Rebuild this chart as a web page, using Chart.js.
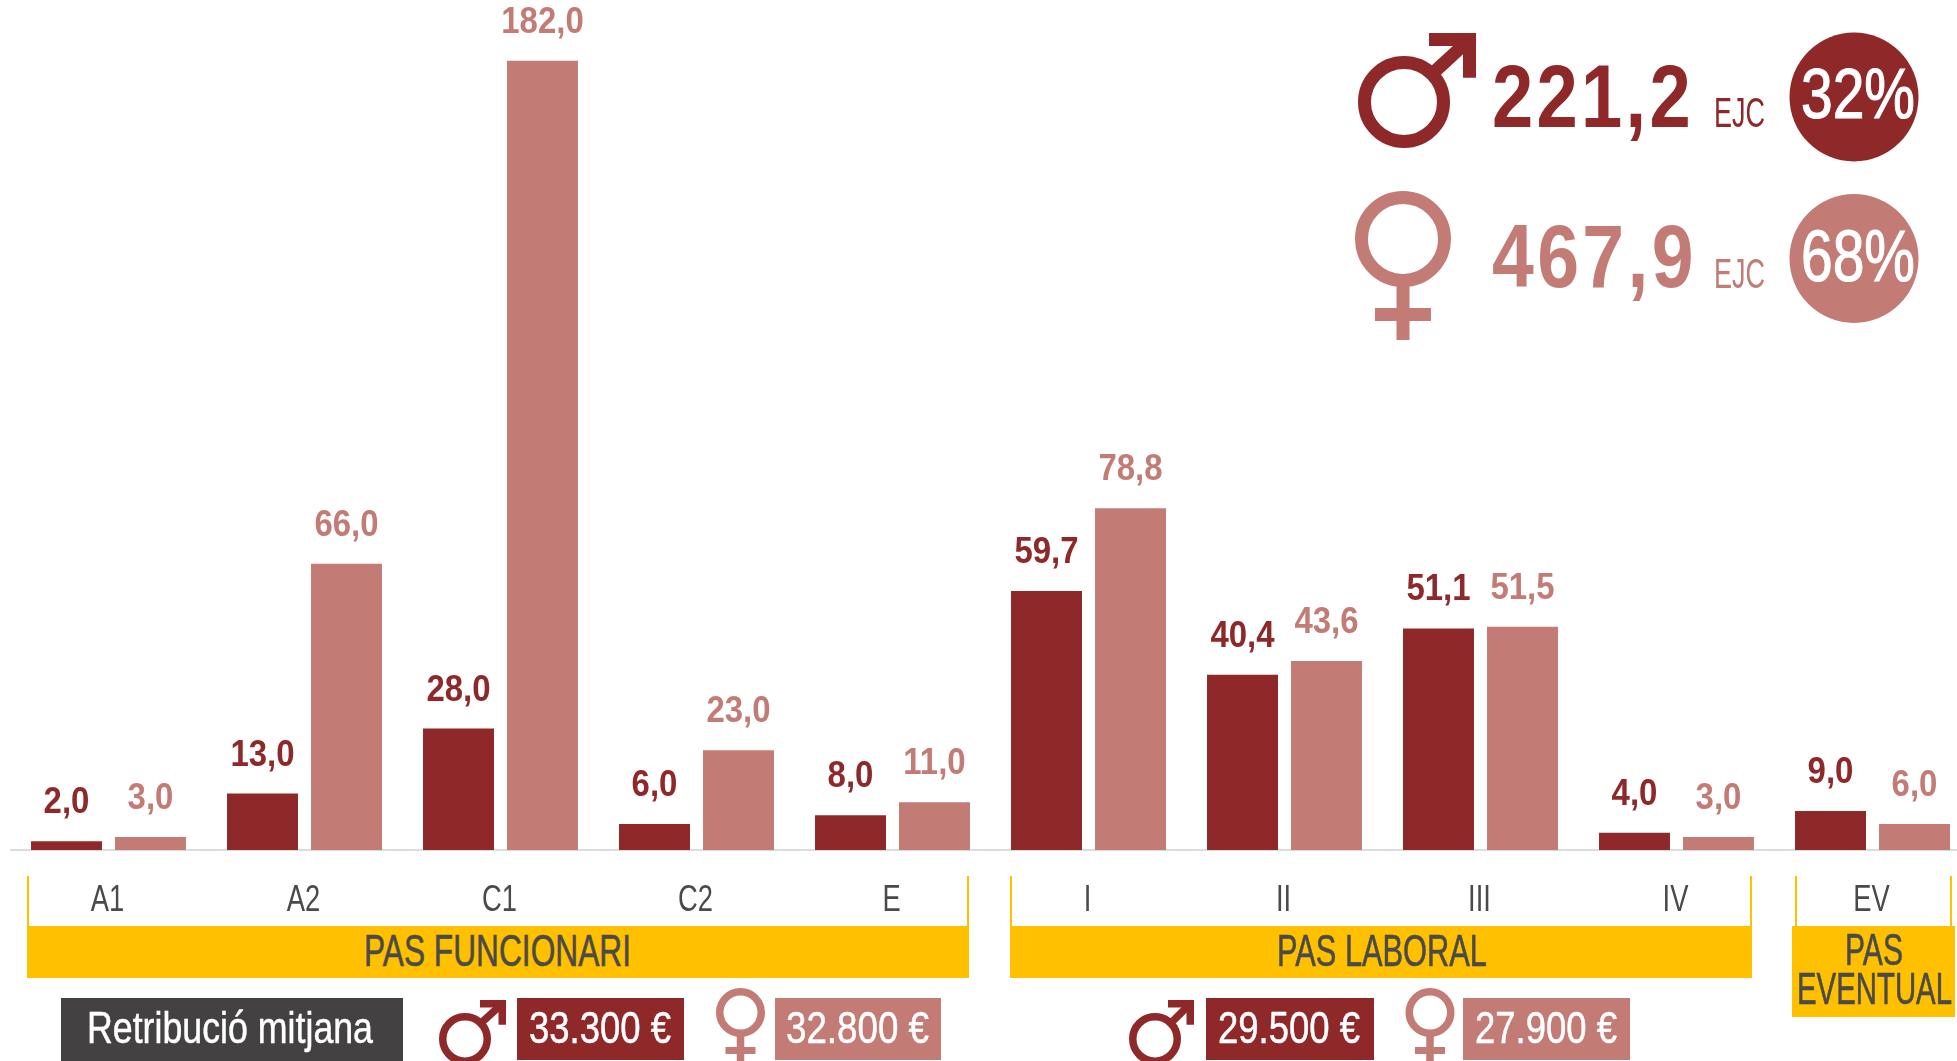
<!DOCTYPE html>
<html><head><meta charset="utf-8">
<style>
html,body{margin:0;padding:0;background:#fff;overflow:hidden;width:1957px;height:1061px}
#wrap{position:relative;width:1957px;height:1061px;overflow:hidden}
canvas{position:absolute;left:0;top:0}
.t{position:absolute;line-height:0;white-space:nowrap;font-family:"Liberation Sans",sans-serif;transform-origin:0 50%}
.b{position:absolute}
svg{position:absolute;left:0;top:0}
</style>
<script src="https://cdn.jsdelivr.net/npm/chart.js@4"></script>
</head><body><div id="wrap">
<canvas id="c" width="1980" height="1061" style="width:1980px;height:1061px"></canvas>
<svg width="1957" height="1061" id="s"></svg>
</div>
<script>
const categories=["A1","A2","C1","C2","E","I","II","III","IV","EV"];
const homes=[2.0,13.0,28.0,6.0,8.0,59.7,40.4,51.1,4.0,9.0];
const dones=[3.0,66.0,182.0,23.0,11.0,78.8,43.6,51.5,3.0,6.0];
const DARK="#8f2829",LIGHT="#c27c75",YEL="#ffc000",GREY="#434142",TXT="#4a4a4a";
const FONT='"Liberation Sans",sans-serif';
const fmt=v=>v.toFixed(1).replace('.',',');

const labelPlugin={id:'vals',afterDatasetsDraw(ch){
  const c=ch.ctx;c.save();c.textAlign='center';c.textBaseline='alphabetic';
  c.font='bold 36px '+FONT;
  ch.data.datasets.forEach((d,i)=>{c.fillStyle=d.backgroundColor;
    ch.getDatasetMeta(i).data.forEach((el,j)=>{c.save();c.translate(el.x,el.y-28);c.scale(.915,1);
      c.fillText(fmt(d.data[j]),0,0);c.restore();});});
  const sx=ch.scales.x;c.font='36px '+FONT;c.fillStyle=TXT;c.textBaseline='middle';
  sx.ticks.forEach((t,i)=>{c.save();c.translate(sx.getPixelForTick(i)-1,901);c.scale(.76,1);
    c.fillText(categories[t.value],0,0);c.restore();});
  c.restore();}};

new Chart(document.getElementById('c'),{type:'bar',plugins:[labelPlugin],
 data:{labels:categories,datasets:[
  {label:'Homes',data:homes,backgroundColor:DARK,categoryPercentage:.857,barPercentage:.845},
  {label:'Dones',data:dones,backgroundColor:LIGHT,categoryPercentage:.857,barPercentage:.845}]},
 options:{responsive:false,animation:false,layout:{padding:{left:10.5,right:9.5,top:0,bottom:0}},
  plugins:{legend:{display:false},tooltip:{enabled:false}},
  scales:{
   x:{afterFit(s){s.height=211},grid:{display:false,drawTicks:false},border:{color:'#dcdcdc',width:2},
      ticks:{display:false,autoSkip:false}},
   y:{display:false,min:0,max:196}}}});

const wrap=document.getElementById('wrap');
function box(x,y,w,h,col){const d=document.createElement('div');d.className='b';
  d.style.cssText+=`left:${x}px;top:${y}px;width:${w}px;height:${h}px;background:${col}`;wrap.appendChild(d);}
function text(s,x0,x1,yc,h,col,opt={}){const d=document.createElement('div');d.className='t';d.textContent=s;
  d.style.fontSize=(h/0.69)+'px';d.style.left=x0+'px';d.style.top=yc+'px';d.style.color=col;
  if(opt.bold)d.style.fontWeight='bold';
  if(opt.ls)d.style.letterSpacing=opt.ls+'px';
  if(opt.st)d.style.webkitTextStroke=opt.st+'px '+col;
  wrap.appendChild(d);
  const w=d.getBoundingClientRect().width;d.style.transform=`scaleX(${(x1-x0)/w})`;}

// brackets
[[27,969],[1010,1752],[1795,1952]].forEach(([a,b])=>{box(a,876,2,50,YEL);box(b-2,876,2,50,YEL);});
box(27,926,942,52,YEL);box(1010,926,742,52,YEL);box(1792,926,163,91,YEL);
text("PAS FUNCIONARI",364,631,951,30,TXT,{st:.6});
text("PAS LABORAL",1277,1487,951,30,TXT,{st:.6});
text("PAS",1845,1903,950,30,TXT,{st:.6});
text("EVENTUAL",1797,1952,989,30,TXT,{st:.6});
// salary row
box(61,998,342,63,GREY);text("Retribució mitjana",87,373,1028,31,"#fff",{st:.5});
box(517,998,167,62,DARK);text("33.300 €",529,671,1028,31,"#fff",{st:.5});
box(775,998,166,62,LIGHT);text("32.800 €",786,929,1028,31,"#fff",{st:.5});
box(1206,998,168,62,DARK);text("29.500 €",1218,1360,1028,31,"#fff",{st:.5});
box(1463,998,167,62,LIGHT);text("27.900 €",1475,1617,1028,31,"#fff",{st:.5});
// top totals
text("221,2",1492,1694,96,62,DARK,{bold:true,ls:4});text("EJC",1714,1765,113,29,DARK);
text("467,9",1492,1697,256,62,LIGHT,{bold:true,ls:4});text("EJC",1714,1765,274,29,LIGHT);

const s=document.getElementById('s');let svg='';
function male(cx,cy,r,sw,hx,hy,hl,col){const k=sw;
  svg+=`<circle cx="${cx}" cy="${cy}" r="${r-sw/2}" fill="none" stroke="${col}" stroke-width="${sw}"/>`;
  const a=cx+(r-sw/2)*.7,b=cy-(r-sw/2)*.7;
  svg+=`<line x1="${a}" y1="${b}" x2="${hx-sw/2}" y2="${hy+sw/2}" stroke="${col}" stroke-width="${sw}"/>`;
  svg+=`<path d="M${hx-hl*1.0} ${hy}H${hx}V${hy+hl*.95}H${hx-k}V${hy+k}H${hx-hl}Z" fill="${col}"/>`;}
function female(cx,cy,r,sw,yEnd,bar,by,bh,col){
  svg+=`<circle cx="${cx}" cy="${cy}" r="${r-sw/2}" fill="none" stroke="${col}" stroke-width="${sw}"/>`;
  svg+=`<rect x="${cx-sw/2}" y="${cy+r-2}" width="${sw}" height="${yEnd-cy-r+2}" fill="${col}"/>`;
  svg+=`<rect x="${cx-bar}" y="${by}" width="${bar*2}" height="${bh}" fill="${col}"/>`;}
male(1404,102,46,13,1476,33,47,DARK);
female(1403,239,48,13,340,28,308,13,LIGHT);
svg+=`<circle cx="1854" cy="97" r="64.5" fill="${DARK}"/><circle cx="1854" cy="258.5" r="64.5" fill="${LIGHT}"/>`;
male(465,1039,26,7.5,506,1000,26,DARK);male(1155,1039,26,7.5,1194,1000,26,DARK);
female(740.5,1012.5,24.5,7.5,1061,15,1047,7,LIGHT);female(1430,1012.5,24.5,7.5,1061,15,1047,7,LIGHT);
s.innerHTML=svg;
text("32%",1801,1915,94,48,"#fff",{st:1.2});text("68%",1801,1915,256,50,"#fff",{st:1.2});
</script></body></html>
